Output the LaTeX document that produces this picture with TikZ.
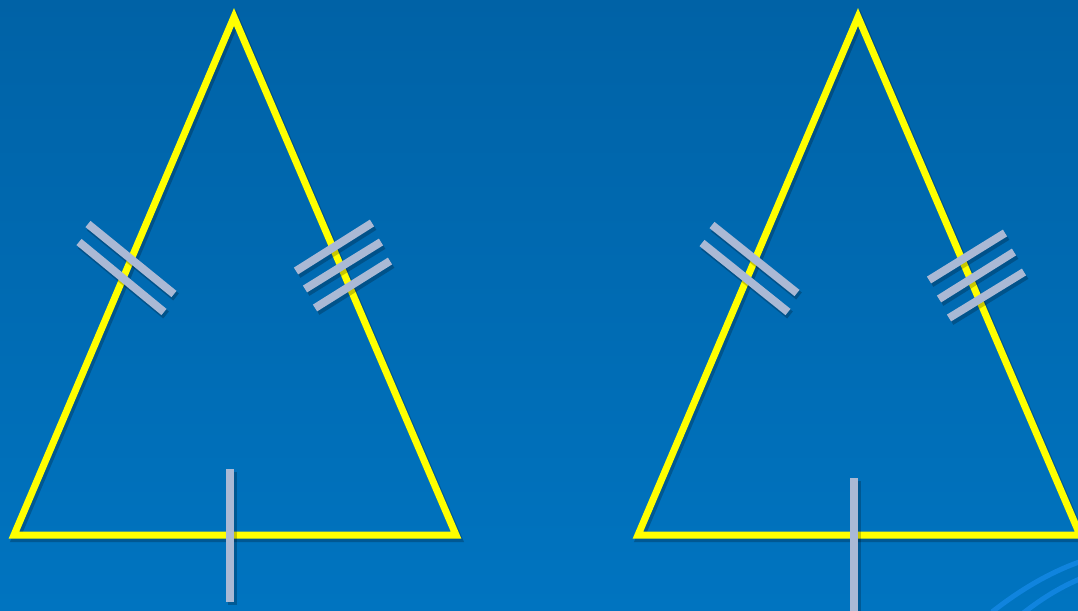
\documentclass[tikz,border=0pt]{standalone}
\usetikzlibrary{calc}
\definecolor{bgtop}{RGB}{0,98,166}
\definecolor{bgbot}{RGB}{0,116,192}
\definecolor{tri}{RGB}{255,255,0}
\definecolor{tick}{RGB}{170,185,213}
\definecolor{swirl}{RGB}{16,132,222}
\tikzset{
  triline/.style={draw=tri, line width=7pt, line join=miter},
  trishadow/.style={draw=black, opacity=0.22, line width=8pt, line join=miter},
  tickline/.style={draw=tick, line width=8pt},
  tickshadow/.style={draw=black, opacity=0.22, line width=9pt},
  swirlline/.style={draw=swirl, line width=5pt}
}
\begin{document}
\begin{tikzpicture}[x=1pt,y=-1pt]
\shade[top color=bgtop, bottom color=bgbot] (0,0) rectangle (1078,610);
\useasboundingbox (0,0) rectangle (1078,610);
\clip (0,0) rectangle (1078,610);
% swirl arcs
\draw[swirlline] (992,612) .. controls (1020,590) and (1050,572) .. (1082,561);
\draw[swirlline] (1022,614) .. controls (1040,600) and (1058,588) .. (1082,578);
% triangle vertices
\coordinate (LA) at (234,17);
\coordinate (LB) at (14,535);
\coordinate (LC) at (456,535);
\coordinate (RA) at (858,17);
\coordinate (RB) at (638,535);
\coordinate (RC) at (1080,535);
% shadows of triangles
\draw[trishadow] ($(LA)+(2,3)$) -- ($(LB)+(2,3)$) -- ($(LC)+(2,3)$) -- cycle;
\draw[trishadow] ($(RA)+(2,3)$) -- ($(RB)+(2,3)$) -- ($(RC)+(2,3)$) -- cycle;
% triangles
\draw[triline] (LA) -- (LB) -- (LC) -- cycle;
\draw[triline] (RA) -- (RB) -- (RC) -- cycle;
% tick coordinates: left triangle
\coordinate (l1a) at (88,224);  \coordinate (l1b) at (174,294);
\coordinate (l2a) at (79,242);  \coordinate (l2b) at (164,312);
\coordinate (r1a) at (296,271); \coordinate (r1b) at (372,223);
\coordinate (r2a) at (305,289); \coordinate (r2b) at (381,242);
\coordinate (r3a) at (315,308); \coordinate (r3b) at (390,261);
\coordinate (b1a) at (230,469); \coordinate (b1b) at (230,602);
% right triangle
\coordinate (m1a) at (712,225); \coordinate (m1b) at (797,293);
\coordinate (m2a) at (702,243); \coordinate (m2b) at (788,312);
\coordinate (n1a) at (929,280); \coordinate (n1b) at (1005,233);
\coordinate (n2a) at (939,299); \coordinate (n2b) at (1014,252);
\coordinate (n3a) at (949,318); \coordinate (n3b) at (1024,272);
\coordinate (b2a) at (854,478); \coordinate (b2b) at (854,615);
% tick shadows
\foreach \p in {l1,l2,r1,r2,r3,b1,m1,m2,n1,n2,n3,b2}{
  \draw[tickshadow] ($(\p a)+(2,3)$) -- ($(\p b)+(2,3)$);
}
% ticks
\foreach \p in {l1,l2,r1,r2,r3,b1,m1,m2,n1,n2,n3,b2}{
  \draw[tickline] (\p a) -- (\p b);
}
\end{tikzpicture}
\end{document}
